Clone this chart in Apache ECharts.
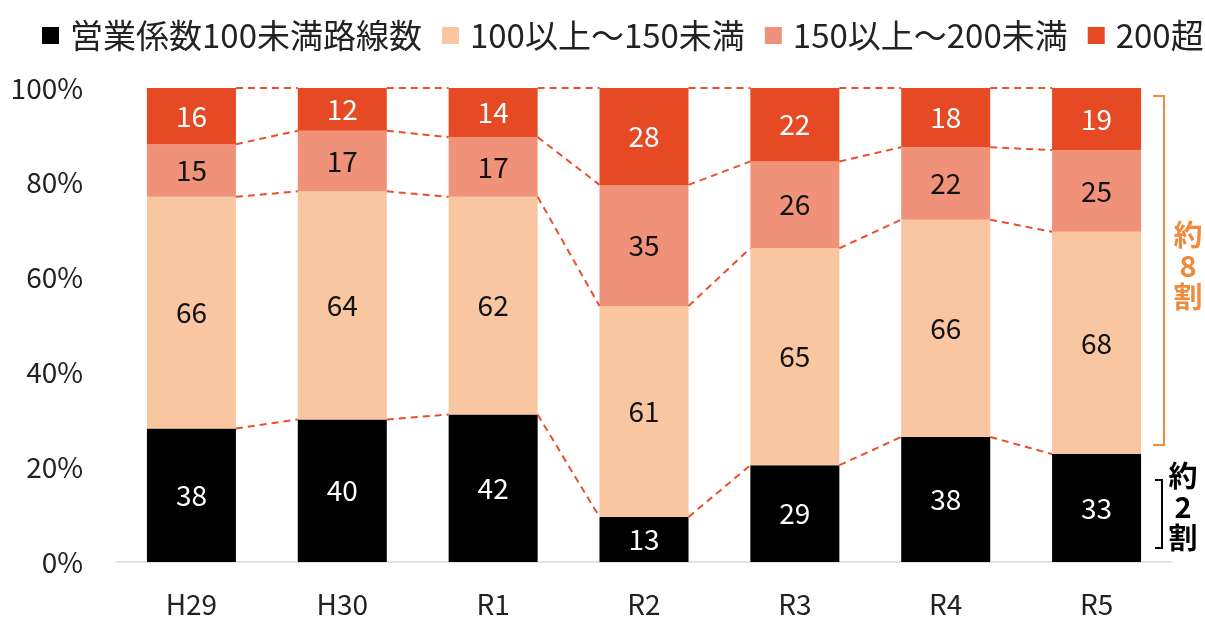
<!DOCTYPE html>
<html><head><meta charset="utf-8">
<script src="https://cdn.jsdelivr.net/npm/echarts@6/dist/echarts.min.js"></script>
<style>html,body{margin:0;padding:0;background:#fff}#c{width:1205px;height:619px}</style>
</head><body><div id="c"></div>
<script>
const categories = ['H29','H30','R1','R2','R3','R4','R5'];
const seriesNames = ['営業係数100未満路線数','100以上～150未満','150以上～200未満','200超'];
const under100 = [38,40,42,13,29,38,33];
const from100to150 = [66,64,62,61,65,66,68];
const from150to200 = [15,17,17,35,26,22,25];
const over200 = [16,12,14,28,22,18,19];
const yTicks = ['0%','20%','40%','60%','80%','100%'];

const colors = ['#000000','#F8C6A1','#F0917A','#E64A24'];
const labelColors = ['#ffffff','#111111','#111111','#ffffff'];
const raw = [under100, from100to150, from150to200, over200];
const totals = categories.map((_, i) => raw.reduce((s, a) => s + a[i], 0));
const pct = raw.map(a => a.map((v, i) => v / totals[i] * 100));
const cum = categories.map((_, i) => { let s = 0; return raw.map(a => (s += a[i] / totals[i] * 100)); });

const FONT = "'Noto Sans CJK JP', 'Noto Sans', sans-serif";
const BARW = 0.59;

const chart = echarts.init(document.getElementById('c'));
const barSeries = raw.map((arr, k) => ({
  name: seriesNames[k], type: 'bar', stack: 'all', barWidth: (BARW*100)+'%',
  itemStyle: { color: colors[k] },
  data: pct[k],
  label: { show: true, position: 'inside', color: labelColors[k], fontSize: 28, fontFamily: FONT,
    formatter: p => String(arr[p.dataIndex]) },
  z: 2
}));

const lineSeries = {
  type: 'custom', name: 'links', silent: true, z: 3,
  data: categories.slice(0, -1).map((_, i) => i),
  renderItem: function (params, api) {
    const i = api.value(0);
    const band = api.size([1, 0])[0];
    const hw = band * BARW / 2;
    const children = [];
    for (let k = 0; k < 4; k++) {
      const a = api.coord([i, cum[i][k]]);
      const b = api.coord([i + 1, cum[i + 1][k]]);
      children.push({ type: 'line', shape: { x1: a[0] + hw, y1: a[1], x2: b[0] - hw, y2: b[1] },
        style: { stroke: '#E8502A', lineWidth: 2, lineDash: [7, 5] } });
    }
    return { type: 'group', children };
  },
  encode: { x: 0 }
};

chart.setOption({
  animation: false,
  textStyle: { fontFamily: FONT },
  legend: {
    top: 14, left: 37, width: 1168, itemWidth: 17, itemHeight: 17, itemGap: 20, icon: 'rect',
    textStyle: { fontSize: 33, color: '#222', fontFamily: FONT, padding: [0, 0, 0, 6] },
    data: seriesNames
  },
  grid: { left: 116, right: 33, top: 88, bottom: 57 },
  xAxis: {
    type: 'category', data: categories,
    axisLine: { lineStyle: { color: '#d9d9d9', width: 1.5 } },
    axisTick: { show: false },
    axisLabel: { fontSize: 28, color: '#222', margin: 28, fontFamily: FONT }
  },
  yAxis: {
    type: 'value', min: 0, max: 100, interval: 20,
    axisLine: { show: false }, axisTick: { show: false }, splitLine: { show: false },
    axisLabel: { fontSize: 28, color: '#222', margin: 33, fontFamily: FONT,
      formatter: v => yTicks[Math.round(v / 20)] }
  },
  series: barSeries.concat([lineSeries]),
  graphic: [
    { type: 'polyline', shape: { points: [[1153, 96], [1164, 96], [1164, 445], [1153, 445]] },
      style: { stroke: '#F08A3C', lineWidth: 2, fill: null } },
    { type: 'text', x: 1188, y: 219, style: { text: '約\n8\n割', font: "bold 29px " + FONT, fill: '#F08A3C', lineHeight: 31, align: 'center' } },
    { type: 'polyline', shape: { points: [[1155, 480], [1162, 480], [1162, 548], [1155, 548]] },
      style: { stroke: '#000', lineWidth: 2, fill: null } },
    { type: 'text', x: 1183, y: 460, style: { text: '約\n2\n割', font: "bold 29px " + FONT, fill: '#000', lineHeight: 31, align: 'center' } }
  ]
});
</script></body></html>
